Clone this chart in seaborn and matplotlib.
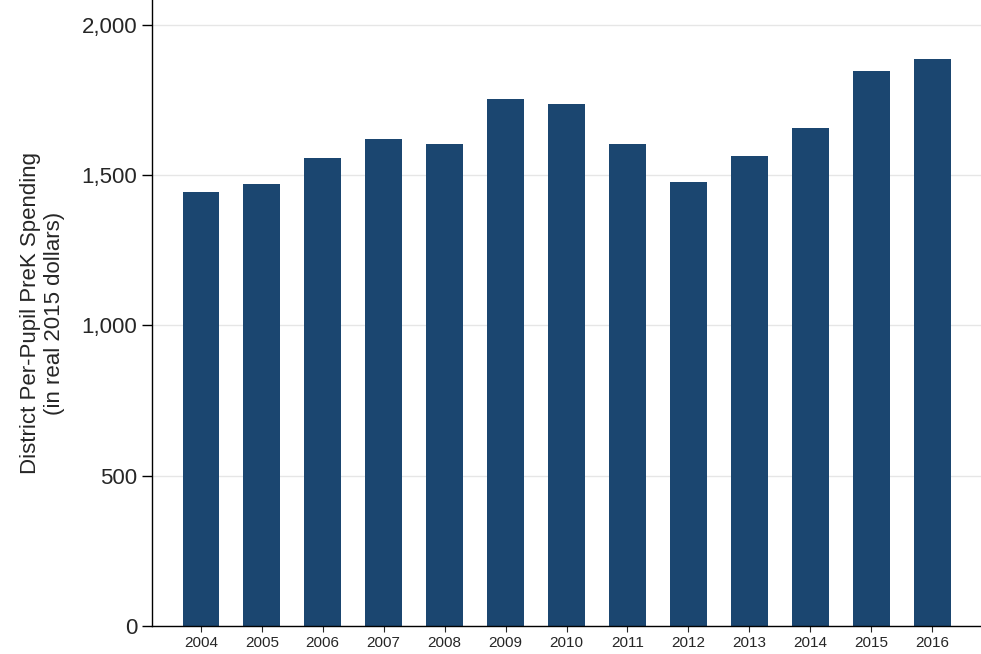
import numpy as np
import pandas as pd
import seaborn as sns
import matplotlib.pyplot as plt
from matplotlib.ticker import FuncFormatter

years = ['2004', '2005', '2006', '2007', '2008', '2009', '2010',
         '2011', '2012', '2013', '2014', '2015', '2016']
spending = [1444, 1471, 1557, 1621, 1604, 1754, 1737,
            1604, 1478, 1564, 1657, 1847, 1887]

df = pd.DataFrame({'year': years, 'spending': spending})

sns.set_style('white')
plt.rcParams['font.family'] = ['Liberation Sans', 'DejaVu Sans']

fig = plt.figure(figsize=(9.81, 6.54), dpi=100)
ax = fig.add_axes([0.155, 0.043, 0.845, 0.957])
sns.barplot(data=df, x='year', y='spending', color='#1b4670', saturation=1,
            width=0.6, ax=ax, zorder=2, edgecolor='none')

ax.set_ylim(0, 2083)
ax.set_xlim(-0.8, 12.8)
ax.set_yticks([0, 500, 1000, 1500, 2000])
ax.yaxis.set_major_formatter(FuncFormatter(lambda v, p: f'{int(v):,}'))
ax.grid(axis='y', color='#e6e6e6', linewidth=1, zorder=0)
ax.set_axisbelow(True)
ax.tick_params(axis='y', labelsize=16, length=7, width=1, color='black', left=True)
ax.tick_params(axis='x', labelsize=11, length=4, bottom=True)
ax.set_xlabel('')
ax.set_ylabel('District Per-Pupil PreK Spending\n(in real 2015 dollars)', fontsize=16,
              labelpad=12)
for s in ['top', 'right']:
    ax.spines[s].set_visible(False)
for s in ['left', 'bottom']:
    ax.spines[s].set_color('black')
    ax.spines[s].set_linewidth(1)

fig.savefig('out.png', dpi=100)
